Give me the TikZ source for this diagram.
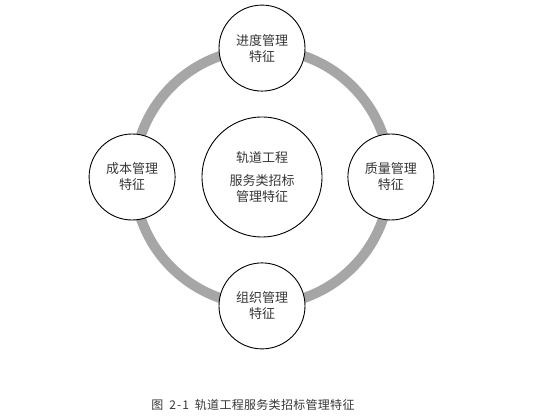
\documentclass[tikz,border=0pt]{standalone}
\usepackage{fontspec}
\newfontfamily\cjk{Noto Sans CJK SC}
\usetikzlibrary{positioning}
\definecolor{RingGray}{RGB}{166,166,166}
\definecolor{InkGray}{RGB}{55,55,55}
\tikzset{%
  hub/.style={%
    circle,%
    draw=black,%
    fill=white,%
    line width=0.9pt,%
    inner sep=0pt,%
    minimum size=120pt,%
    text=InkGray,%
    font={\cjk\fontsize{13}{16}\selectfont},%
    align=center%
  },
  spoke/.style={%
    hub,%
    minimum size=86pt,%
  },
  ring/.style={%
    color=RingGray,%
    line width=10pt,%
  },
  caption/.style={%
    text=InkGray,%
    font={\cjk\fontsize{12}{14}\selectfont},%
  },
}
\begin{document}
\begin{tikzpicture}[x=1pt, y=1pt]
    \useasboundingbox (0, 0) rectangle (548, 417);
    \coordinate (Hub) at (262, 240);
    \draw[ring] (Hub) circle (128);

    \node[hub] (Core) at (Hub) {轨道工程\\[7pt]服务类招标\\管理特征};
    \node[spoke, above = 25 of Core] (Schedule) {进度管理\\特征};
    \node[spoke, right = 25 of Core] (Quality) {质量管理\\特征};
    \node[spoke, below = 25 of Core] (Organize) {组织管理\\特征};
    \node[spoke, left = 26 of Core] (Cost) {成本管理\\特征};

    \node[caption] (Title) at (253, 12)
      {图\hspace{6pt}2\hspace{1pt}-\hspace{1pt}1\hspace{6pt}轨\hspace{0.3pt}道\hspace{0.3pt}工\hspace{0.3pt}程\hspace{0.3pt}服\hspace{0.3pt}务\hspace{0.3pt}类\hspace{0.3pt}招\hspace{0.3pt}标\hspace{0.3pt}管\hspace{0.3pt}理\hspace{0.3pt}特\hspace{0.3pt}征};
  \end{tikzpicture}
\end{document}
